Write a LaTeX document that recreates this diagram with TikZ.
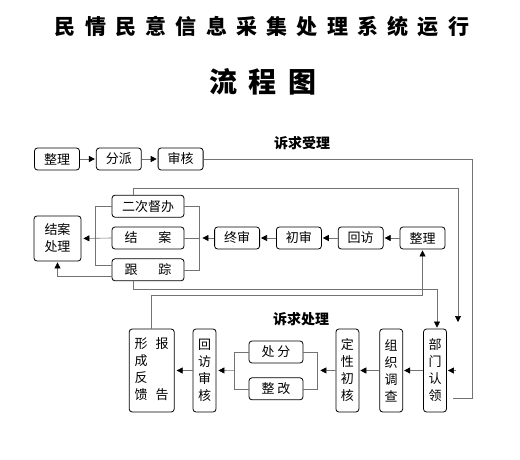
\documentclass[tikz,border=0pt]{standalone}
\usepackage{fontspec}
\setmainfont{Noto Sans CJK SC}
\usetikzlibrary{arrows.meta, positioning, calc}

\begin{document}
\begin{tikzpicture}[
    x=1pt, y=-1pt,
    node distance=16pt and 16pt,
    box/.style={draw, rounded corners=3pt, line width=0.8pt, minimum width=45pt, minimum height=22pt, inner sep=1pt, font=\fontsize{13}{17}\selectfont},
    wbox/.style={box, minimum width=72pt},
    vbox/.style={box, minimum width=23pt, minimum height=83pt, align=center},
    tag/.style={font=\bfseries\fontsize{14}{14}\selectfont},
    line/.style={draw=black!55, line width=0.6pt},
    arrow/.style={line, -{Triangle[length=6pt, width=6pt, color=black]}, shorten >=1pt}
]
    \fill[white] (0,0) rectangle (520,460);

    % titles
    \node[font=\bfseries\fontsize{21}{21}\selectfont\addfontfeature{LetterSpace=44}] (title) at (262,27) {民情民意信息采集处理系统运行};
    \node[font=\bfseries\fontsize{28}{28}\selectfont\addfontfeature{LetterSpace=42}] (subtitle) at (263,82) {流程图};

    % top row
    \node[box] (zl1) at (57,159) {整理};
    \node[box, right=of zl1] (fp) {分派};
    \node[box, right=of fp] (sh) {审核};
    \node[tag] (sl) at (302,143) {诉求受理};

    % middle row
    \node[box] (zl2) at (422.5,238) {整理};
    \node[box, left=of zl2] (hf) {回访};
    \node[box, left=of hf] (cs) {初审};
    \node[box, left=of cs] (zs) {终审};

    \node[wbox] (ja) at (148,238) {结\hspace{1.6em}案};
    \node[wbox, above=9pt of ja] (dbb) {二次督办};
    \node[wbox, below=9pt of ja] (gz) {跟\hspace{1.6em}踪};
    \node[box, minimum width=47pt, minimum height=45pt, align=center] (jacl) at (57.5,238.5) {结案\\处理};

    % bottom row
    \node[tag] (cl) at (301,319) {诉求处理};
    \node[vbox] (rl) at (435,370.5) {部\\门\\认\\领};
    \node[vbox, left=20pt of rl] (dc) {组\\织\\调\\查};
    \node[vbox, left=20pt of dc] (dx) {定\\性\\初\\核};
    \node[box, minimum width=54pt] (cf) at (276,352) {处\hspace{0.2em}分};
    \node[box, minimum width=54pt, below=14pt of cf] (zg) {整\hspace{0.2em}改};
    \node[vbox] (hfsh) at (204.5,370.5) {回\\访\\审\\核};
    \node[vbox, minimum width=45pt, left=18pt of hfsh] (fk) {\begin{tabular}{@{}c@{\hspace{8pt}}c@{}}形&报\\成&\\反&\\馈&告\end{tabular}};

    % connectors
    \draw[arrow] (zl1) -- (fp);
    \draw[arrow] (fp) -- (sh);
    \coordinate (c1) at (453,398);
    \draw[line] (sh.east) -| (472,398) -- (c1);

    \coordinate (c2) at (458,323);
    \draw[arrow] ($(dbb.north)+(-15,0)$) |- (458,188) -- (c2);
    \draw[arrow] ($(gz.south)+(-15,0)$) -- ++(0,8) -| ($(rl.north)+(2,0)$);
    \draw[arrow] (fk.north) -- ++(0,-33) -| (zl2.south);
    \draw[arrow] ($(gz.west)+(0,6)$) -| (jacl.south);

    \draw[arrow] (zl2) -- (hf);
    \draw[arrow] (hf) -- (cs);
    \draw[arrow] (cs) -- (zs);
    \draw[line] (dbb.west) -| ($(gz.west)+(-16,-5)$) -- ($(gz.west)+(0,-5)$);
    \draw[line] (dbb.east) -| ($(gz.east)+(15,0)$) -- (gz.east);
    \draw[line] (ja.east) -- ++(15,0);
    \draw[arrow, shorten >=3pt] (zs.west) -- ($(ja.east)+(15,0)$);
    \draw[arrow, shorten >=2pt] (ja.west) -- (jacl.east);

    \coordinate (c3) at (456,370.5);
    \draw[arrow] (c3) -- (rl.east);
    \draw[arrow] (rl) -- (dc);
    \draw[arrow] (dc) -- (dx);
    \draw[line] (cf.east) -| ($(zg.east)+(14,0)$) -- (zg.east);
    \draw[arrow, shorten >=3pt] (dx.west) -- ($(cf.east)!0.5!(zg.east)+(14,0)$);
    \draw[line] (cf.west) -| ($(zg.west)+(-14,0)$) -- (zg.west);
    \draw[arrow, shorten >=2pt] ($(cf.west)!0.5!(zg.west)+(-14,0)$) -- (hfsh.east);
    \draw[arrow, shorten >=2pt] (hfsh) -- (fk);
\end{tikzpicture}
\end{document}
